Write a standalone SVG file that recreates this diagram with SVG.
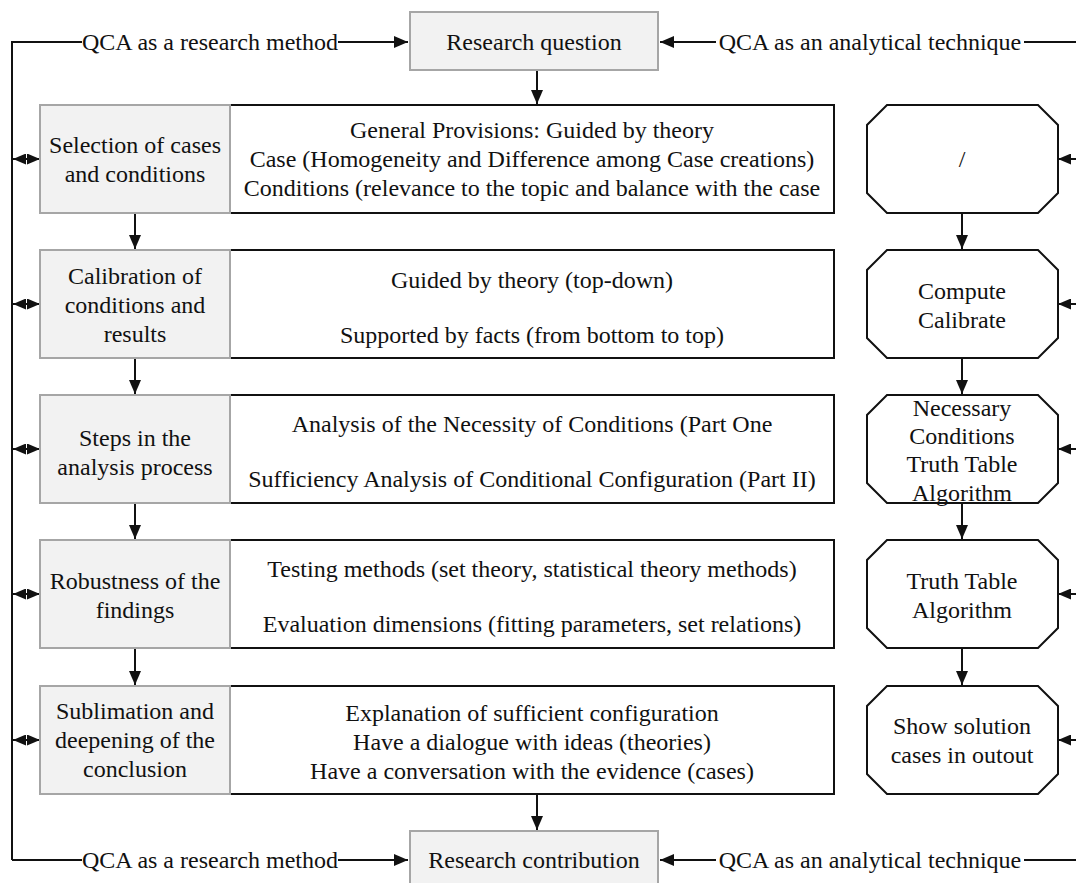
<svg xmlns="http://www.w3.org/2000/svg" width="1076" height="883" viewBox="0 0 1076 883">
<style>
text{font-family:'Liberation Serif','Times New Roman',serif;font-size:24px;fill:#111;text-anchor:middle}
.gray{fill:#f2f2f2;stroke:#a6a6a6;stroke-width:2}
.white{fill:#fff;stroke:#111;stroke-width:2}
.oct{fill:#fff;stroke:#111;stroke-width:2}
.ln{fill:none;stroke:#111;stroke-width:2}
.bg{fill:#fff}
</style>
<defs>
<marker id="ah" markerUnits="userSpaceOnUse" markerWidth="14" markerHeight="12" refX="14" refY="6" orient="auto-start-reverse">
<path d="M0,0 L14,6 L0,12 z" fill="#111"/>
</marker>
<marker id="sh" markerUnits="userSpaceOnUse" markerWidth="13" markerHeight="11" refX="13" refY="5.5" orient="auto-start-reverse">
<path d="M0,0 L13,5.5 L0,11 z" fill="#111"/>
</marker>
</defs>

<g id="connectors">
<path class="ln" d="M12,860 V42 H408" marker-end="url(#ah)"/>
<path class="ln" d="M1090,42 H660" marker-end="url(#ah)"/>
<path class="ln" d="M12,860 H408" marker-end="url(#ah)"/>
<path class="ln" d="M1090,42 V860 H660" marker-end="url(#ah)"/>
<rect class="bg" x="82" y="28" width="256" height="28"/>
<rect class="bg" x="716" y="28" width="308" height="28"/>
<rect class="bg" x="82" y="846" width="256" height="28"/>
<rect class="bg" x="716" y="846" width="308" height="28"/>
<text x="210" y="50">QCA as a research method</text>
<text x="870" y="50">QCA as an analytical technique</text>
<text x="210" y="868">QCA as a research method</text>
<text x="870" y="868">QCA as an analytical technique</text>
<path class="ln" d="M537,70 V104" marker-end="url(#ah)"/>
<path class="ln" d="M537,794 V830" marker-end="url(#ah)"/>
<path class="ln" d="M135,213 V249" marker-end="url(#ah)"/>
<path class="ln" d="M135,358 V394" marker-end="url(#ah)"/>
<path class="ln" d="M135,503 V539" marker-end="url(#ah)"/>
<path class="ln" d="M135,648 V685" marker-end="url(#ah)"/>
<path class="ln" d="M962,213 V249" marker-end="url(#ah)"/>
<path class="ln" d="M962,358 V394" marker-end="url(#ah)"/>
<path class="ln" d="M962,503 V539" marker-end="url(#ah)"/>
<path class="ln" d="M962,648 V685" marker-end="url(#ah)"/>
<path class="ln" d="M13,159 H40" marker-start="url(#sh)" marker-end="url(#sh)"/>
<path class="ln" d="M13,304 H40" marker-start="url(#sh)" marker-end="url(#sh)"/>
<path class="ln" d="M13,449 H40" marker-start="url(#sh)" marker-end="url(#sh)"/>
<path class="ln" d="M13,594 H40" marker-start="url(#sh)" marker-end="url(#sh)"/>
<path class="ln" d="M13,740 H40" marker-start="url(#sh)" marker-end="url(#sh)"/>
<path class="ln" d="M1058,159 H1089" marker-start="url(#sh)" marker-end="url(#sh)"/>
<path class="ln" d="M1058,304 H1089" marker-start="url(#sh)" marker-end="url(#sh)"/>
<path class="ln" d="M1058,449 H1089" marker-start="url(#sh)" marker-end="url(#sh)"/>
<path class="ln" d="M1058,594 H1089" marker-start="url(#sh)" marker-end="url(#sh)"/>
<path class="ln" d="M1058,740 H1089" marker-start="url(#sh)" marker-end="url(#sh)"/>
</g>

<g id="research-question">
<rect class="gray" x="410" y="12" width="248" height="58"/>
<text x="534" y="50">Research question</text>
</g>
<g id="research-contribution">
<rect class="gray" x="410" y="831" width="248" height="60"/>
<text x="534" y="868">Research contribution</text>
</g>

<g id="row1-detail">
<rect class="white" x="230" y="105" width="604" height="108"/>
<text x="532" y="138">General Provisions: Guided by theory</text>
<text x="532" y="167">Case (Homogeneity and Difference among Case creations)</text>
<text x="532" y="196">Conditions (relevance to the topic and balance with the case</text>
</g>
<g id="row1-step">
<rect class="gray" x="40" y="105" width="190" height="108"/>
<text x="135" y="153">Selection of cases</text>
<text x="135" y="182">and conditions</text>
</g>
<g id="row1-tool">
<path class="oct" d="M887,105 H1038 L1058,125 V193 L1038,213 H887 L867,193 V125 Z"/>
<text x="962" y="167">/</text>
</g>

<g id="row2-detail">
<rect class="white" x="230" y="250" width="604" height="108"/>
<text x="532" y="288">Guided by theory (top-down)</text>
<text x="532" y="343">Supported by facts (from bottom to top)</text>
</g>
<g id="row2-step">
<rect class="gray" x="40" y="250" width="190" height="108"/>
<text x="135" y="284">Calibration of</text>
<text x="135" y="313">conditions and</text>
<text x="135" y="342">results</text>
</g>
<g id="row2-tool">
<path class="oct" d="M887,250 H1038 L1058,270 V338 L1038,358 H887 L867,338 V270 Z"/>
<text x="962" y="299">Compute</text>
<text x="962" y="328">Calibrate</text>
</g>

<g id="row3-detail">
<rect class="white" x="230" y="395" width="604" height="108"/>
<text x="532" y="432">Analysis of the Necessity of Conditions (Part One</text>
<text x="532" y="487">Sufficiency Analysis of Conditional Configuration (Part II)</text>
</g>
<g id="row3-step">
<rect class="gray" x="40" y="395" width="190" height="108"/>
<text x="135" y="446">Steps in the</text>
<text x="135" y="475">analysis process</text>
</g>
<g id="row3-tool">
<path class="oct" d="M887,395 H1038 L1058,415 V483 L1038,503 H887 L867,483 V415 Z"/>
<text x="962" y="416">Necessary</text>
<text x="962" y="444">Conditions</text>
<text x="962" y="472">Truth Table</text>
<text x="962" y="501">Algorithm</text>
</g>

<g id="row4-detail">
<rect class="white" x="230" y="540" width="604" height="108"/>
<text x="532" y="577">Testing methods (set theory, statistical theory methods)</text>
<text x="532" y="632">Evaluation dimensions (fitting parameters, set relations)</text>
</g>
<g id="row4-step">
<rect class="gray" x="40" y="540" width="190" height="108"/>
<text x="135" y="589">Robustness of the</text>
<text x="135" y="618">findings</text>
</g>
<g id="row4-tool">
<path class="oct" d="M887,540 H1038 L1058,560 V628 L1038,648 H887 L867,628 V560 Z"/>
<text x="962" y="589">Truth Table</text>
<text x="962" y="618">Algorithm</text>
</g>

<g id="row5-detail">
<rect class="white" x="230" y="686" width="604" height="108"/>
<text x="532" y="721">Explanation of sufficient configuration</text>
<text x="532" y="750">Have a dialogue with ideas (theories)</text>
<text x="532" y="779">Have a conversation with the evidence (cases)</text>
</g>
<g id="row5-step">
<rect class="gray" x="40" y="686" width="190" height="108"/>
<text x="135" y="719">Sublimation and</text>
<text x="135" y="748">deepening of the</text>
<text x="135" y="777">conclusion</text>
</g>
<g id="row5-tool">
<path class="oct" d="M887,686 H1038 L1058,706 V774 L1038,794 H887 L867,774 V706 Z"/>
<text x="962" y="734">Show solution</text>
<text x="962" y="763">cases in outout</text>
</g>
</svg>
